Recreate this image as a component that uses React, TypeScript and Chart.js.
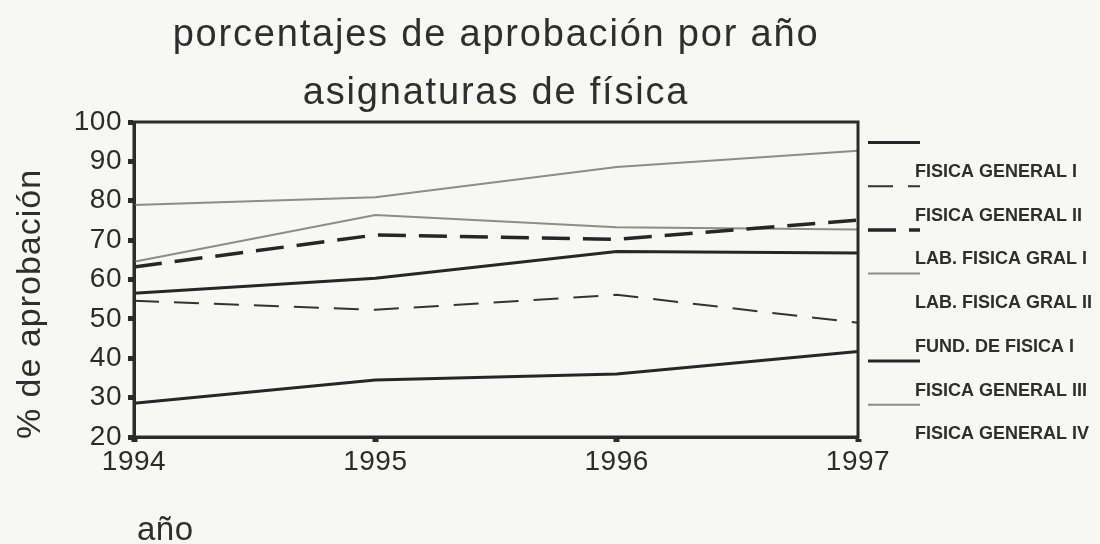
import { useEffect, useRef } from 'react';
import { Chart, registerables } from 'chart.js';

Chart.register(...registerables);

const years = ['1994', '1995', '1996', '1997'];
const fisicaGeneralI = [56.5, 60.3, 67.1, 66.7];
const fisicaGeneralII = [54.6, 52.3, 56.1, 49.0];
const labFisicaGralI = [63.2, 71.3, 70.2, 75.1];
const labFisicaGralII = [78.9, 80.9, 88.6, 92.7];
const fundDeFisicaI = [null, null, null, null];
const fisicaGeneralIII = [28.6, 34.5, 36.0, 41.7];
const fisicaGeneralIV = [64.5, 76.4, 73.3, 72.7];

const titleLines = ['porcentajes de aprobación por año', 'asignaturas de física'];
const yTitle = '% de aprobación';
const xTitle = 'año';
const yMin = 20;
const yMax = 100;
const yStep = 10;

const FONT = '"Liberation Sans", Arial, sans-serif';
const INK = '#2b2b2b';

const decor = {
  id: 'decor',
  beforeDraw(chart: any) {
    const ctx = chart.ctx;
    ctx.save();
    ctx.fillStyle = '#f7f7f5';
    ctx.fillRect(0, 0, chart.width, chart.height);
    ctx.restore();
    ctx.letterSpacing = '0.5px';
  },
  afterDraw(chart: any) {
    const ctx = chart.ctx;
    const a = chart.chartArea;
    ctx.save();
    ctx.strokeStyle = INK;
    ctx.lineWidth = 3;
    ctx.strokeRect(a.left, a.top, a.right - a.left, a.bottom - a.top);

    ctx.fillStyle = '#2e2e2e';
    ctx.textBaseline = 'alphabetic';
    ctx.textAlign = 'center';
    ctx.font = '38px ' + FONT;
    ctx.letterSpacing = '1.8px';
    const cx = (a.left + a.right) / 2;
    ctx.fillText(titleLines[0], cx, 46);
    ctx.fillText(titleLines[1], cx, 104);

    ctx.font = '34px ' + FONT;
    ctx.letterSpacing = '1px';
    ctx.save();
    ctx.translate(40, 304);
    ctx.rotate(-Math.PI / 2);
    ctx.fillText(yTitle, 0, 0);
    ctx.restore();

    ctx.textAlign = 'left';
    ctx.font = '33px ' + FONT;
    ctx.letterSpacing = '0.5px';
    ctx.fillText(xTitle, 137, 540);

    ctx.font = 'bold 18px ' + FONT;
    ctx.letterSpacing = '0px';
    chart.data.datasets.forEach((ds: any, i: number) => {
      const base = 177 + i * 43.7;
      ctx.fillStyle = '#2e2e2e';
      ctx.fillText(ds.label, 915, base);
      if (ds.borderWidth > 0) {
        ctx.save();
        ctx.strokeStyle = ds.borderColor;
        ctx.lineWidth = ds.borderWidth;
        ctx.setLineDash(ds.borderDash || []);
        ctx.beginPath();
        ctx.moveTo(868, base - 34.5);
        ctx.lineTo(920, base - 34.5);
        ctx.stroke();
        ctx.restore();
      }
    });
    ctx.restore();
  },
};

export default function App() {
  const ref = useRef<HTMLCanvasElement>(null);
  useEffect(() => {
    const chart = new Chart(ref.current!, {
      type: 'line',
      data: {
        labels: years,
        datasets: [
          { label: 'FISICA GENERAL I', data: fisicaGeneralI, borderColor: '#262626', borderWidth: 3, borderDash: [] },
          { label: 'FISICA GENERAL II', data: fisicaGeneralII, borderColor: '#333333', borderWidth: 2, borderDash: [25, 15] },
          { label: 'LAB. FISICA GRAL I', data: labFisicaGralI, borderColor: '#262626', borderWidth: 3.5, borderDash: [28, 13] },
          { label: 'LAB. FISICA GRAL II', data: labFisicaGralII, borderColor: '#8c8c8c', borderWidth: 2, borderDash: [] },
          { label: 'FUND. DE FISICA I', data: fundDeFisicaI, borderColor: 'rgba(0,0,0,0)', borderWidth: 0, borderDash: [] },
          { label: 'FISICA GENERAL III', data: fisicaGeneralIII, borderColor: '#262626', borderWidth: 3, borderDash: [] },
          { label: 'FISICA GENERAL IV', data: fisicaGeneralIV, borderColor: '#8c8c8c', borderWidth: 2, borderDash: [] },
        ] as any,
      },
      options: {
        responsive: false,
        animation: false,
        elements: { point: { radius: 0 }, line: { tension: 0, fill: false } },
        layout: { padding: { left: 0, top: 122, right: 242, bottom: 67 } },
        plugins: { legend: { display: false }, title: { display: false }, tooltip: { enabled: false } },
        scales: {
          x: {
            type: 'category',
            offset: false,
            afterFit: (s: any) => { s.height = 40; },
            grid: { drawOnChartArea: false, drawTicks: true, tickLength: 5, tickWidth: 6, tickColor: INK },
            border: { display: true, width: 3, color: INK },
            ticks: { color: '#2b2b2b', font: { family: FONT, size: 28 }, padding: 3, maxRotation: 0 },
          },
          y: {
            min: yMin,
            max: yMax,
            afterFit: (s: any) => { s.width = 134; },
            grid: { drawOnChartArea: false, drawTicks: true, tickLength: 6, tickWidth: 5, tickColor: INK },
            border: { display: true, width: 3, color: INK },
            ticks: { stepSize: yStep, color: '#2b2b2b', font: { family: FONT, size: 28 }, padding: 6 },
          },
        },
      },
      plugins: [decor],
    });
    return () => chart.destroy();
  }, []);
  return (
    <div style={{ position: 'fixed', left: 0, top: 0, width: 1100, height: 544 }}>
      <canvas ref={ref} width={1100} height={544} style={{ width: 1100, height: 544, display: 'block' }} />
    </div>
  );
}
